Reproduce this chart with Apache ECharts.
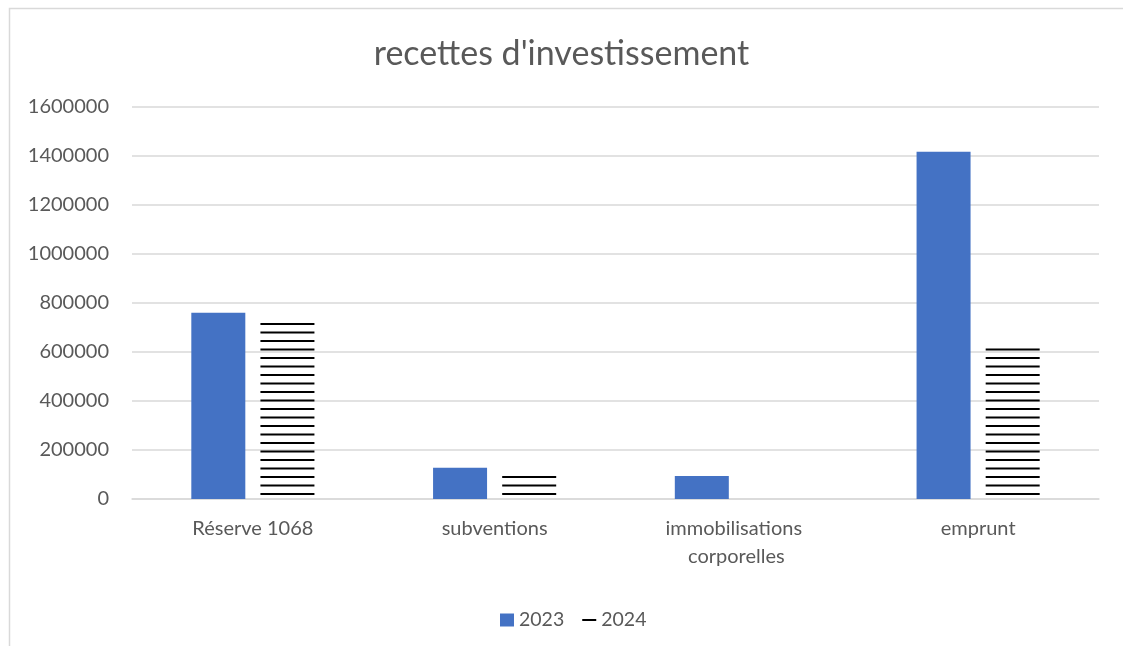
<!DOCTYPE html>
<html>
<head>
<meta charset="utf-8">
<script src="https://cdn.jsdelivr.net/npm/echarts@6/dist/echarts.min.js"></script>
<style>
html,body{margin:0;padding:0;background:#fff;}
#chart{width:1123px;height:646px;}
</style>
</head>
<body>
<div id="chart"></div>
<script>
const titleText = "recettes d'investissement";
const categories = ["Réserve 1068", "subventions", "immobilisations corporelles", "emprunt"];
const seriesNames = ["2023", "2024"];
const values2023 = [760000, 128000, 94000, 1417000];
const values2024 = [728000, 105000, 0, 618000];
const yTicks = [0, 200000, 400000, 600000, 800000, 1000000, 1200000, 1400000, 1600000];

const FONT = 'Lato';
const TEXT = '#595959';

// horizontal stripe pattern
const pc = document.createElement('canvas');
pc.width = 8; pc.height = 17;
const pctx = pc.getContext('2d');
pctx.fillStyle = '#000';
pctx.fillRect(0, 0, 8, 2);
pctx.fillRect(0, 8.5, 8, 2);

const chart = echarts.init(document.getElementById('chart'), null, {renderer: 'canvas'});
chart.setOption({
  backgroundColor: '#fff',
  animation: false,
  graphic: [{
    type: 'rect', left: 7, top: 6, silent: true,
    shape: {width: 1300, height: 800},
    style: {fill: 'none', stroke: '#d9d9d9', lineWidth: 1.5}
  }],
  title: {
    text: titleText, left: 'center', top: 32,
    textStyle: {fontFamily: FONT, fontSize: 34, fontWeight: 'normal', color: TEXT}
  },
  legend: {
    left: 495, top: 605,
    itemWidth: 14, itemHeight: 13, itemGap: 18,
    textStyle: {fontFamily: FONT, fontSize: 19.5, color: TEXT},
    data: [
      {name: seriesNames[0], icon: 'rect', itemStyle: {color: '#4472C4'}},
      {name: seriesNames[1], icon: 'path://M0,0Z M14,13Z M0,5.5L14,5.5L14,7.5L0,7.5Z', itemStyle: {color: '#000'}}
    ]
  },
  grid: {left: 132, right: 24, top: 107, bottom: 147},
  xAxis: {
    type: 'category', data: categories,
    axisLine: {show: true, lineStyle: {color: '#d9d9d9', width: 1.5}},
    axisTick: {show: false},
    axisLabel: {fontFamily: FONT, fontSize: 20, color: TEXT, margin: 16, lineHeight: 28,
      width: 230, overflow: 'break', interval: 0}
  },
  yAxis: {
    type: 'value', min: yTicks[0], max: yTicks[yTicks.length - 1], interval: yTicks[1] - yTicks[0],
    axisLine: {show: false}, axisTick: {show: false},
    axisLabel: {fontFamily: FONT, fontSize: 20, color: TEXT, margin: 23,
      formatter: function (v) { return String(v); }},
    splitLine: {lineStyle: {color: '#d9d9d9', width: 1.5}}
  },
  series: [
    {name: seriesNames[0], type: 'bar', data: values2023, barWidth: 54, barGap: '28%',
      itemStyle: {color: '#4472C4'}},
    {name: seriesNames[1], type: 'bar', data: values2024, barWidth: 54,
      itemStyle: {color: {image: pc, repeat: 'repeat'}}}
  ]
});
</script>
</body>
</html>
